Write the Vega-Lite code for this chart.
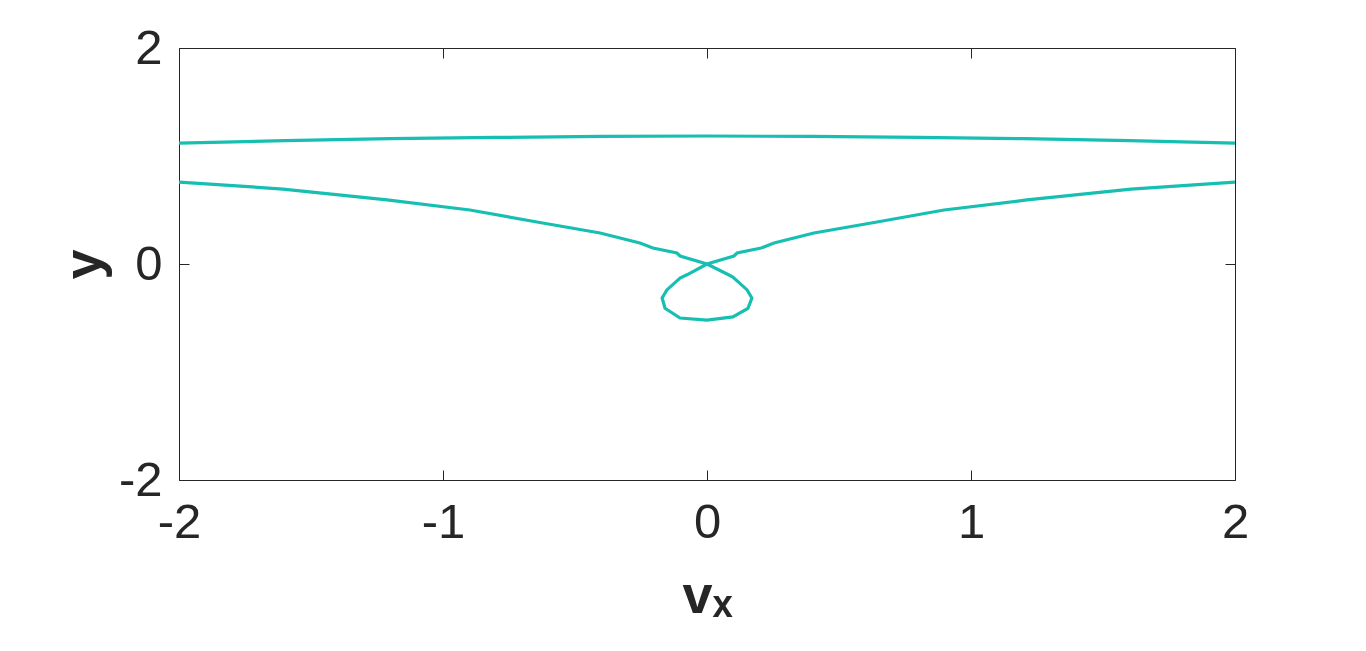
{
  "$schema": "https://vega.github.io/schema/vega-lite/v6.json",
  "autosize": "none",
  "width": 1056,
  "height": 432,
  "padding": {"left": 179, "top": 48, "right": 131, "bottom": 171},
  "background": "white",
  "config": {
    "view": {"stroke": "#262626", "strokeWidth": 1},
    "axis": {
      "grid": false,
      "domain": false,
      "tickColor": "#262626",
      "tickSize": -10,
      "tickWidth": 1,
      "labelFlush": false,
      "labelOverlap": false,
      "labelFont": "Liberation Sans",
      "labelFontSize": 49,
      "labelColor": "#262626",
      "labelExpr": "replace(datum.label, '−', '-')",
      "titleFont": "Liberation Sans",
      "titleFontSize": 54,
      "titleFontWeight": "bold",
      "titleColor": "#262626"
    }
  },
  "data": {
    "values": [
      {"s": "upper", "o": 0, "x": -2.0, "y": 1.12},
      {"s": "upper", "o": 1, "x": -1.6, "y": 1.142},
      {"s": "upper", "o": 2, "x": -1.2, "y": 1.16},
      {"s": "upper", "o": 3, "x": -0.8, "y": 1.172},
      {"s": "upper", "o": 4, "x": -0.4, "y": 1.181},
      {"s": "upper", "o": 5, "x": 0.0, "y": 1.185},
      {"s": "upper", "o": 6, "x": 0.4, "y": 1.181},
      {"s": "upper", "o": 7, "x": 0.8, "y": 1.172},
      {"s": "upper", "o": 8, "x": 1.2, "y": 1.16},
      {"s": "upper", "o": 9, "x": 1.6, "y": 1.142},
      {"s": "upper", "o": 10, "x": 2.0, "y": 1.12},
      {"s": "lower", "o": 0, "x": -2.0, "y": 0.759},
      {"s": "lower", "o": 1, "x": -1.606, "y": 0.694},
      {"s": "lower", "o": 2, "x": -1.212, "y": 0.593},
      {"s": "lower", "o": 3, "x": -0.898, "y": 0.5},
      {"s": "lower", "o": 4, "x": -0.644, "y": 0.389},
      {"s": "lower", "o": 5, "x": -0.405, "y": 0.287},
      {"s": "lower", "o": 6, "x": -0.254, "y": 0.194},
      {"s": "lower", "o": 7, "x": -0.205, "y": 0.148},
      {"s": "lower", "o": 8, "x": -0.114, "y": 0.102},
      {"s": "lower", "o": 9, "x": -0.102, "y": 0.074},
      {"s": "lower", "o": 10, "x": 0.0, "y": 0.0},
      {"s": "lower", "o": 11, "x": 0.076, "y": -0.093},
      {"s": "lower", "o": 12, "x": 0.098, "y": -0.12},
      {"s": "lower", "o": 13, "x": 0.152, "y": -0.24},
      {"s": "lower", "o": 14, "x": 0.17, "y": -0.315},
      {"s": "lower", "o": 15, "x": 0.155, "y": -0.41},
      {"s": "lower", "o": 16, "x": 0.098, "y": -0.49},
      {"s": "lower", "o": 17, "x": 0.0, "y": -0.52},
      {"s": "lower", "o": 18, "x": -0.102, "y": -0.5},
      {"s": "lower", "o": 19, "x": -0.159, "y": -0.41},
      {"s": "lower", "o": 20, "x": -0.17, "y": -0.315},
      {"s": "lower", "o": 21, "x": -0.152, "y": -0.24},
      {"s": "lower", "o": 22, "x": -0.102, "y": -0.13},
      {"s": "lower", "o": 23, "x": -0.076, "y": -0.1},
      {"s": "lower", "o": 24, "x": 0.0, "y": 0.0},
      {"s": "lower", "o": 25, "x": 0.102, "y": 0.074},
      {"s": "lower", "o": 26, "x": 0.114, "y": 0.102},
      {"s": "lower", "o": 27, "x": 0.205, "y": 0.148},
      {"s": "lower", "o": 28, "x": 0.254, "y": 0.194},
      {"s": "lower", "o": 29, "x": 0.405, "y": 0.287},
      {"s": "lower", "o": 30, "x": 0.644, "y": 0.389},
      {"s": "lower", "o": 31, "x": 0.898, "y": 0.5},
      {"s": "lower", "o": 32, "x": 1.212, "y": 0.593},
      {"s": "lower", "o": 33, "x": 1.606, "y": 0.694},
      {"s": "lower", "o": 34, "x": 2.0, "y": 0.759}
    ]
  },
  "layer": [
    {
      "mark": {"type": "line", "color": "#17bfb3", "strokeWidth": 3.2, "clip": true},
      "encoding": {
        "x": {"field": "x", "type": "quantitative", "scale": {"domain": [-2, 2], "nice": false},
              "axis": {"values": [-2, -1, 0, 1, 2], "title": "vₓ", "labelPadding": 28, "titlePadding": 22}},
        "y": {"field": "y", "type": "quantitative", "scale": {"domain": [-2, 2], "nice": false},
              "axis": {"values": [-2, 0, 2], "title": "y", "labelPadding": 27, "titlePadding": 7}},
        "detail": {"field": "s"},
        "order": {"field": "o"}
      }
    },
    {
      "mark": {"type": "line", "opacity": 0},
      "encoding": {
        "x": {"field": "x", "type": "quantitative",
              "axis": {"orient": "top", "values": [-2, -1, 0, 1, 2], "labels": false, "title": null}},
        "y": {"field": "y", "type": "quantitative",
              "axis": {"orient": "right", "values": [-2, 0, 2], "labels": false, "title": null}},
        "detail": {"field": "s"},
        "order": {"field": "o"}
      }
    }
  ],
  "resolve": {"axis": {"x": "independent", "y": "independent"}}
}
